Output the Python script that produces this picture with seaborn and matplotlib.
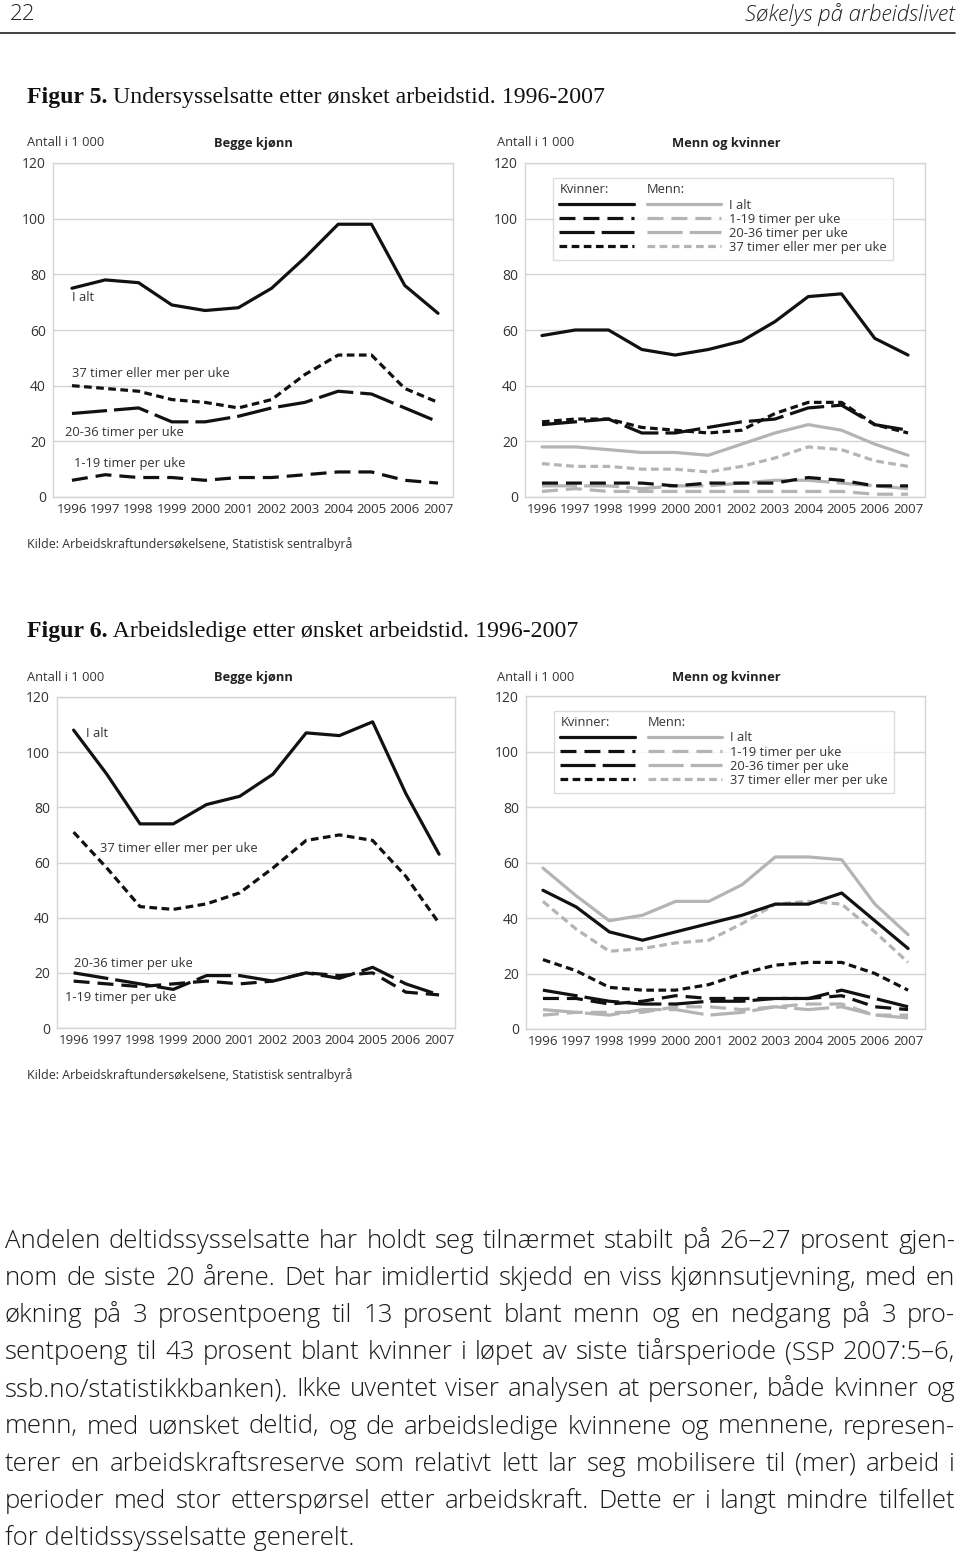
import matplotlib
matplotlib.use('Agg')
import matplotlib.pyplot as plt
from matplotlib.lines import Line2D
import seaborn as sns
import pandas as pd

sns.set_theme(style='white')
plt.rcParams['font.family'] = ['Open Sans', 'DejaVu Sans']

W, H = 960, 1561
years = list(range(1996, 2008))

# Figur 5 - undersysselsatte, begge kjonn
f5_ialt = [75, 78, 77, 69, 67, 68, 75, 86, 98, 98, 76, 66]
f5_37 = [40, 39, 38, 35, 34, 32, 35, 44, 51, 51, 39, 34]
f5_2036 = [30, 31, 32, 27, 27, 29, 32, 34, 38, 37, 32, 27]
f5_119 = [6, 8, 7, 7, 6, 7, 7, 8, 9, 9, 6, 5]
# Figur 5 - menn og kvinner
f5_k_ialt = [58, 60, 60, 53, 51, 53, 56, 63, 72, 73, 57, 51]
f5_k_119 = [5, 5, 5, 5, 4, 5, 5, 5, 7, 6, 4, 4]
f5_k_2036 = [26, 27, 28, 23, 23, 25, 27, 28, 32, 33, 26, 24]
f5_k_37 = [27, 28, 28, 25, 24, 23, 24, 30, 34, 34, 26, 23]
f5_m_ialt = [18, 18, 17, 16, 16, 15, 19, 23, 26, 24, 19, 15]
f5_m_119 = [2, 3, 2, 2, 2, 2, 2, 2, 2, 2, 1, 1]
f5_m_2036 = [4, 4, 4, 3, 4, 4, 5, 6, 6, 5, 4, 3]
f5_m_37 = [12, 11, 11, 10, 10, 9, 11, 14, 18, 17, 13, 11]

# Figur 6 - arbeidsledige, begge kjonn
f6_ialt = [108, 92, 74, 74, 81, 84, 92, 107, 106, 111, 85, 63]
f6_37 = [71, 58, 44, 43, 45, 49, 58, 68, 70, 68, 55, 38]
f6_2036 = [20, 18, 16, 14, 19, 19, 17, 20, 18, 22, 16, 12]
f6_119 = [17, 16, 15, 16, 17, 16, 17, 20, 19, 20, 13, 12]
# Figur 6 - menn og kvinner
f6_k_ialt = [50, 44, 35, 32, 35, 38, 41, 45, 45, 49, 39, 29]
f6_k_119 = [11, 11, 9, 10, 12, 11, 11, 11, 11, 12, 8, 7]
f6_k_2036 = [14, 12, 10, 9, 9, 10, 10, 11, 11, 14, 11, 8]
f6_k_37 = [25, 21, 15, 14, 14, 16, 20, 23, 24, 24, 20, 14]
f6_m_ialt = [58, 48, 39, 41, 46, 46, 52, 62, 62, 61, 45, 34]
f6_m_119 = [5, 6, 6, 6, 8, 8, 7, 8, 9, 9, 5, 5]
f6_m_2036 = [7, 6, 5, 7, 7, 5, 6, 8, 7, 8, 5, 4]
f6_m_37 = [46, 36, 28, 29, 31, 32, 38, 45, 46, 45, 35, 24]

groups = ['I alt', '1-19 timer per uke', '20-36 timer per uke', '37 timer eller mer per uke']
dash_map = {'I alt': '', '1-19 timer per uke': (5, 2.5),
            '20-36 timer per uke': (11, 2.2), '37 timer eller mer per uke': (2.4, 1.4)}

BLACK = '#111111'
GREY = '#b4b4b4'
GRID = '#d4d4d4'
TXT = '#333333'
LW = 2.3
FS = 9.3

fig = plt.figure(figsize=(W / 100, H / 100), dpi=100)


def add_ax(l, t, r, b):
    return fig.add_axes([l / W, 1 - b / H, (r - l) / W, (b - t) / H])


def style_ax(ax, pyr_left, pyr_right):
    ax.set_xlim(1996 - pyr_left, 2007 + pyr_right)
    ax.set_ylim(0, 120)
    ax.set_yticks(range(0, 121, 20))
    ax.set_xticks(years)
    ax.set_xticks([1997, 2000, 2003, 2006], minor=True)
    ax.grid(False)
    ax.grid(which='major', axis='y', color=GRID, lw=1)
    ax.grid(which='minor', axis='x', color=GRID, lw=1)
    ax.set_axisbelow(True)
    for s in ax.spines.values():
        s.set_color(GRID)
        s.set_linewidth(1)
    ax.tick_params(axis='y', length=0, pad=5, labelsize=10, labelcolor=TXT)
    ax.tick_params(axis='x', which='major', direction='in', length=4, color=GRID,
                   pad=4, labelsize=9.6, labelcolor=TXT)
    ax.tick_params(axis='x', which='minor', length=0)
    ax.set_xlabel('')
    ax.set_ylabel('')


def draw(ax, series, color):
    df = pd.DataFrame({'year': years * len(series),
                       'value': sum(series, []),
                       'series': sum([[g] * len(years) for g in groups], [])})
    sns.lineplot(data=df, x='year', y='value', hue='series', style='series',
                 palette={g: color for g in groups}, dashes=dash_map,
                 linewidth=LW, legend=False, ax=ax)


def handle(color, g):
    if g == 'I alt':
        return Line2D([], [], color=color, lw=LW, ls='-')
    return Line2D([], [], color=color, lw=LW, ls=(0, dash_map[g]))


def mf_legend(ax, anchor):
    blank = Line2D([], [], lw=0)
    handles = [blank] + [handle(BLACK, g) for g in groups]
    handles += [Line2D([], [], lw=0)] + [handle(GREY, g) for g in groups]
    labels = [''] * 6 + groups
    leg = ax.legend(handles, labels, ncol=2, loc='upper left', bbox_to_anchor=anchor,
                    borderaxespad=0, frameon=True, fancybox=False, edgecolor=GRID,
                    fontsize=FS, handlelength=5.75, handletextpad=0.6, columnspacing=0.4,
                    labelspacing=0.08, borderpad=0.5, labelcolor=TXT)
    leg.get_frame().set_linewidth(1)
    return leg


# ---------- Figur 5 ----------
ax1 = add_ax(53, 163, 453, 497)
draw(ax1, [f5_ialt, f5_119, f5_2036, f5_37], BLACK)
style_ax(ax1, 0.57, 0.45)
lab_kw = dict(fontsize=FS, color=TXT, va='center', ha='left')
ax1.text(1996, 71.5, 'I alt', **lab_kw)
ax1.text(1996, 44.2, '37 timer eller mer per uke', **lab_kw)
ax1.text(1995.8, 23, '20-36 timer per uke', **lab_kw)
ax1.text(1996.05, 11.9, '1-19 timer per uke', **lab_kw)

ax2 = add_ax(525, 163, 925, 497)
draw(ax2, [f5_m_ialt, f5_m_119, f5_m_2036, f5_m_37], GREY)
draw(ax2, [f5_k_ialt, f5_k_119, f5_k_2036, f5_k_37], BLACK)
style_ax(ax2, 0.51, 0.51)
leg2 = mf_legend(ax2, (0.07, 0.955))

# ---------- Figur 6 ----------
ax3 = add_ax(57, 697, 455, 1028)
draw(ax3, [f6_ialt, f6_119, f6_2036, f6_37], BLACK)
style_ax(ax3, 0.5, 0.48)
ax3.text(1996.36, 106.9, 'I alt', **lab_kw)
ax3.text(1996.78, 64.9, '37 timer eller mer per uke', **lab_kw)
ax3.text(1996.0, 23.5, '20-36 timer per uke', **lab_kw)
ax3.text(1995.73, 11.2, '1-19 timer per uke', **lab_kw)

ax4 = add_ax(526, 696, 925, 1029)
draw(ax4, [f6_m_ialt, f6_m_119, f6_m_2036, f6_m_37], GREY)
draw(ax4, [f6_k_ialt, f6_k_119, f6_k_2036, f6_k_37], BLACK)
style_ax(ax4, 0.51, 0.51)
leg4 = mf_legend(ax4, (0.07, 0.955))

# legend column headers sit above the sample lines
fig.canvas.draw()
renderer = fig.canvas.get_renderer()
for leg in (leg2, leg4):
    hs = leg.legend_handles
    b1 = hs[1].get_window_extent(renderer)
    b2 = hs[2].get_window_extent(renderer)
    bm = hs[6].get_window_extent(renderer)
    step = (b1.y0 + b1.y1) / 2 - (b2.y0 + b2.y1) / 2
    yh = (b1.y0 + b1.y1) / 2 + step
    fig.text(b1.x0 / W, yh / H, 'Kvinner:', fontsize=FS, color=TXT, va='center')
    fig.text(bm.x0 / W, yh / H, 'Menn:', fontsize=FS, color=TXT, va='center')

# ---------- page text ----------
fig.text(10 / W, 1 - 15 / H, '22', fontsize=16, color='#222222', va='center',
         fontweight='light')
fig.text(955 / W, 1 - 15 / H, 'Søkelys på arbeidslivet', fontsize=16, color='#222222',
         va='center', ha='right', style='italic', fontweight='light')
fig.add_artist(Line2D([0, 955 / W], [1 - 33 / H, 1 - 33 / H], color='#333333', lw=1.3))

serif = ['Liberation Serif', 'DejaVu Serif']
for y, num, rest in [(98, 'Figur 5.', ' Undersysselsatte etter ønsket arbeidstid. 1996-2007'),
                     (632, 'Figur 6.', ' Arbeidsledige etter ønsket arbeidstid. 1996-2007')]:
    t = fig.text(27 / W, 1 - y / H, num, fontsize=17.2, fontweight='bold', family=serif,
                 va='center', color='#111111')
    bb = t.get_window_extent(renderer)
    fig.text(bb.x1 / W, 1 - y / H, rest, fontsize=17.2, family=serif, va='center',
             color='#111111')

for y in (143, 677):
    fig.text(27 / W, 1 - y / H, 'Antall i 1 000', fontsize=FS, color=TXT, va='center')
    fig.text(253 / W, 1 - y / H, 'Begge kjønn', fontsize=FS, fontweight='bold',
             color='#222222', va='center', ha='center')
    fig.text(497 / W, 1 - y / H, 'Antall i 1 000', fontsize=FS, color=TXT, va='center')
    fig.text(726 / W, 1 - y / H, 'Menn og kvinner', fontsize=FS, fontweight='bold',
             color='#222222', va='center', ha='center')

kilde = 'Kilde: Arbeidskraftundersøkelsene, Statistisk sentralbyrå'
fig.text(27 / W, 1 - 544 / H, kilde, fontsize=8.9, color=TXT, va='center')
fig.text(27 / W, 1 - 1075 / H, kilde, fontsize=8.9, color=TXT, va='center')

body = [
    'Andelen deltidssysselsatte har holdt seg tilnærmet stabilt på 26–27 prosent gjen-',
    'nom de siste 20 årene. Det har imidlertid skjedd en viss kjønnsutjevning, med en',
    'økning på 3 prosentpoeng til 13 prosent blant menn og en nedgang på 3 pro-',
    'sentpoeng til 43 prosent blant kvinner i løpet av siste tiårsperiode (SSP 2007:5–6,',
    'ssb.no/statistikkbanken). Ikke uventet viser analysen at personer, både kvinner og',
    'menn, med uønsket deltid, og de arbeidsledige kvinnene og mennene, represen-',
    'terer en arbeidskraftsreserve som relativt lett lar seg mobilisere til (mer) arbeid i',
    'perioder med stor etterspørsel etter arbeidskraft. Dette er i langt mindre tilfellet',
    'for deltidssysselsatte generelt.',
]
x0, x1 = 5, 955
# pick the font size so that the widest line just fits the column
probe = [fig.text(0, 0, ln, fontsize=10, fontweight='light') for ln in body]
widest = max(p.get_window_extent(renderer).width for p in probe)
for p in probe:
    p.remove()
body_fs = 10 * (x1 - x0) / widest * 0.985
body_kw = dict(fontsize=body_fs, color='#1a1a1a', va='baseline', fontweight='light')
for i, line in enumerate(body):
    yb = 1 - (1248 + i * 37.1) / H
    if i == len(body) - 1:
        fig.text(x0 / W, yb, line, **body_kw)
        continue
    words = line.split(' ')
    texts = [fig.text(0, yb, w, **body_kw) for w in words]
    widths = [t.get_window_extent(renderer).width for t in texts]
    gap = (x1 - x0 - sum(widths)) / (len(words) - 1)
    x = x0
    for t, w in zip(texts, widths):
        t.set_x(x / W)
        x += w + gap

fig.savefig('out.png', dpi=100)
